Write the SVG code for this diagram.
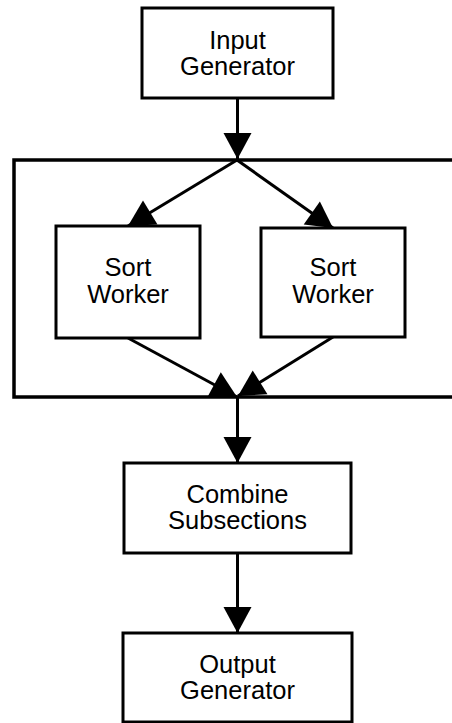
<svg xmlns="http://www.w3.org/2000/svg" width="452" height="723" viewBox="0 0 452 723">
  <style>
    .box { fill: #fff; stroke: #000; stroke-width: 3; }
    .frame { fill: none; stroke: #000; stroke-width: 3.5; }
    .link { fill: none; stroke: #000; stroke-width: 3; marker-end: url(#head); }
    text { font-family: "Liberation Sans", Arial, sans-serif; font-size: 25.5px; text-anchor: middle; fill: #000; }
  </style>
  <defs>
    <marker id="head" markerUnits="userSpaceOnUse" markerWidth="26" markerHeight="28" refX="26" refY="14" orient="auto" overflow="visible">
      <path d="M0,0 L26,14 L0,28 Z" fill="#000"/>
    </marker>
  </defs>

  <rect width="452" height="723" fill="#fff"/>

  <!-- frame around the parallel sort stage -->
  <g id="sort-stage">
    <rect class="frame" x="14" y="160" width="460" height="237"/>
  </g>

  <g id="connectors">
    <line class="link" x1="237.5" y1="98" x2="237.5" y2="159"/>
    <line class="link" x1="237" y1="160" x2="128" y2="226"/>
    <line class="link" x1="237" y1="160" x2="333" y2="228"/>
    <line class="link" x1="128" y1="338" x2="237" y2="397"/>
    <line class="link" x1="333" y1="337" x2="238" y2="396"/>
    <line class="link" x1="237.5" y1="397" x2="237.5" y2="463"/>
    <line class="link" x1="237.5" y1="553" x2="237.5" y2="633"/>
  </g>

  <g id="input-generator">
    <rect class="box" x="142" y="8" width="191" height="90"/>
    <text x="237.5" y="48.5">Input<tspan x="237.5" dy="26">Generator</tspan></text>
  </g>

  <g id="sort-worker-1">
    <rect class="box" x="56" y="226" width="144" height="112"/>
    <text x="128" y="276">Sort<tspan x="128" dy="27">Worker</tspan></text>
  </g>

  <g id="sort-worker-2">
    <rect class="box" x="261" y="228" width="144" height="109"/>
    <text x="333" y="276">Sort<tspan x="333" dy="27">Worker</tspan></text>
  </g>

  <g id="combine-subsections">
    <rect class="box" x="124" y="463" width="227" height="90"/>
    <text x="237.5" y="503">Combine<tspan x="237.5" dy="26">Subsections</tspan></text>
  </g>

  <g id="output-generator">
    <rect class="box" x="123" y="633" width="229" height="89"/>
    <text x="237.5" y="673">Output<tspan x="237.5" dy="26">Generator</tspan></text>
  </g>
</svg>
